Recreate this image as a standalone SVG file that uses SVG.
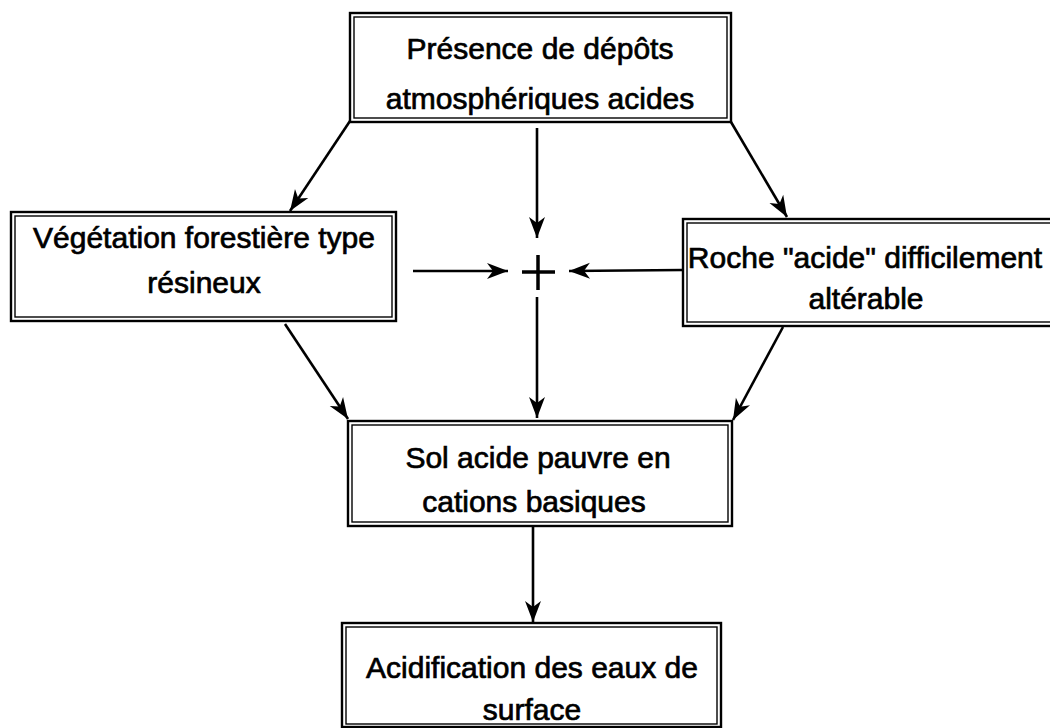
<svg xmlns="http://www.w3.org/2000/svg" width="1050" height="728" viewBox="0 0 1050 728">
<style>
.outer{fill:none;stroke:#000;stroke-width:2.4}
.inner{fill:none;stroke:#000;stroke-width:1.4}
.lbl{font-family:"Liberation Sans",Arial,sans-serif;font-size:30px;fill:#000;stroke:#000;stroke-width:0.7;text-anchor:middle}
.conn{stroke:#000;stroke-width:2.6;fill:none}
</style>
<defs>
<marker id="ah" markerUnits="userSpaceOnUse" markerWidth="24" markerHeight="20" viewBox="-22 -10 24 20" refX="0" refY="0" orient="auto">
<path d="M0,0 L-21,-8 L-15,0 L-21,8 Z" fill="#000"/>
</marker>
</defs>
<rect width="1050" height="728" fill="#fff"/>
<g id="n-top">
<rect class="outer" x="350" y="13" width="381" height="109"/>
<rect class="inner" x="354" y="17" width="373" height="101"/>
<text class="lbl" x="540" y="59">Présence de dépôts</text>
<text class="lbl" x="540" y="109">atmosphériques acides</text>
</g>
<g id="n-veg">
<rect class="outer" x="11" y="212" width="385" height="109"/>
<rect class="inner" x="15" y="216" width="377" height="101"/>
<text class="lbl" x="204" y="248">Végétation forestière type</text>
<text class="lbl" x="204" y="293">résineux</text>
</g>
<g id="n-roche">
<rect class="outer" x="683" y="219" width="380" height="107"/>
<rect class="inner" x="687" y="223" width="380" height="99"/>
<text class="lbl" x="865" y="268">Roche "acide" difficilement</text>
<text class="lbl" x="866" y="309">altérable</text>
</g>
<g id="n-plus">
<line x1="522" y1="272" x2="555" y2="272" stroke="#000" stroke-width="3.5"/>
<line x1="538" y1="255" x2="538" y2="290" stroke="#000" stroke-width="3.5"/>
</g>
<g id="n-sol">
<rect class="outer" x="348" y="421" width="384" height="105"/>
<rect class="inner" x="352" y="425" width="376" height="97"/>
<text class="lbl" x="538" y="468">Sol acide pauvre en</text>
<text class="lbl" x="534" y="512">cations basiques</text>
</g>
<g id="n-acid">
<rect class="outer" x="342" y="623" width="379" height="104"/>
<rect class="inner" x="346" y="627" width="371" height="97"/>
<text class="lbl" x="532" y="678">Acidification des eaux de</text>
<text class="lbl" x="532" y="720">surface</text>
</g>
<g id="connectors">
<line class="conn" x1="350" y1="121" x2="290" y2="211" marker-end="url(#ah)"/>
<line class="conn" x1="537" y1="128" x2="537" y2="238" marker-end="url(#ah)"/>
<line class="conn" x1="731" y1="122" x2="787" y2="217" marker-end="url(#ah)"/>
<line class="conn" x1="413" y1="271" x2="508" y2="271" marker-end="url(#ah)"/>
<line class="conn" x1="683" y1="270" x2="569" y2="271" marker-end="url(#ah)"/>
<line class="conn" x1="537" y1="297" x2="537" y2="418" marker-end="url(#ah)"/>
<line class="conn" x1="285" y1="324" x2="348" y2="419" marker-end="url(#ah)"/>
<line class="conn" x1="783" y1="327" x2="733" y2="420" marker-end="url(#ah)"/>
<line class="conn" x1="533" y1="527" x2="533" y2="622" marker-end="url(#ah)"/>
</g>
</svg>
